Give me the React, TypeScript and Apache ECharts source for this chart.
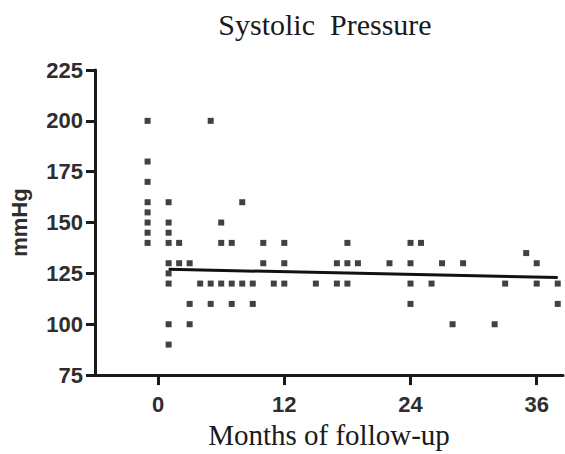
import React, { useEffect, useRef } from "react";
import * as echarts from "echarts";

const chartTitle = "Systolic  Pressure";
const xAxisName = "Months of follow-up";
const yAxisName = "mmHg";
const xTickValues = [0, 12, 24, 36];

// each point: month of follow-up and systolic pressure (mmHg)
const pointMonths = [
  -1, -1, -1, -1, -1, -1, -1, -1,
  1, 1, 1, 1, 1, 1, 1, 1, 1,
  2, 2,
  3, 3, 3,
  4,
  5, 5, 5,
  6, 6, 6,
  7, 7, 7,
  8, 8,
  9, 9,
  10, 10,
  11,
  12, 12, 12,
  15,
  17, 17,
  18, 18, 18,
  19,
  22,
  24, 24, 24, 24,
  25,
  26,
  27,
  28,
  29,
  32,
  33,
  35,
  36, 36,
  38, 38,
];
const pointPressures = [
  200, 180, 170, 160, 155, 150, 145, 140,
  160, 150, 145, 140, 130, 125, 120, 100, 90,
  140, 130,
  130, 110, 100,
  120,
  200, 120, 110,
  150, 140, 120,
  140, 120, 110,
  160, 120,
  120, 110,
  140, 130,
  120,
  140, 130, 120,
  120,
  130, 120,
  140, 130, 120,
  130,
  130,
  140, 130, 120, 110,
  140,
  120,
  130,
  100,
  130,
  100,
  120,
  135,
  130, 120,
  120, 110,
];

// fitted trend line end points
const fitMonths = [1, 38];
const fitPressures = [127, 123];

export default function App() {
  const ref = useRef<HTMLDivElement>(null);

  useEffect(() => {
    if (!ref.current) return;
    const chart = echarts.init(ref.current, null, { renderer: "svg" });
    const scatterData = pointMonths.map((m, i) => [m, pointPressures[i]]);
    const fitData = fitMonths.map((m, i) => [m, fitPressures[i]]);
    const axisColor = "#1a1a1a";
    const labelColor = "#2e2e2e";
    chart.setOption({
      animation: false,
      backgroundColor: "#ffffff",
      title: {
        text: chartTitle,
        left: 320,
        top: 4,
        textAlign: "center",
        textStyle: {
          fontFamily: "Liberation Serif",
          fontWeight: "normal",
          fontSize: 30,
          color: "#1a1a1a",
        },
      },
      grid: { left: 93, top: 70, width: 470, height: 312, containLabel: false },
      xAxis: {
        type: "value",
        min: -6,
        max: 38.5,
        name: xAxisName,
        nameLocation: "middle",
        nameGap: 31,
        nameTextStyle: {
          fontFamily: "Liberation Serif",
          fontSize: 29,
          color: "#1a1a1a",
        },
        axisLine: { show: true, onZero: false, lineStyle: { color: axisColor, width: 3 } },
        axisTick: {
          show: true,
          length: 10,
          customValues: xTickValues,
          lineStyle: { color: axisColor, width: 3 },
        },
        axisLabel: {
          customValues: xTickValues,
          margin: 18,
          fontFamily: "Liberation Sans",
          fontWeight: "bold",
          fontSize: 22,
          color: labelColor,
        },
        splitLine: { show: false },
      },
      yAxis: {
        type: "value",
        min: 75,
        max: 225,
        interval: 25,
        name: yAxisName,
        nameLocation: "middle",
        nameGap: 65,
        nameRotate: 90,
        nameTextStyle: {
          fontFamily: "Liberation Sans",
          fontWeight: "bold",
          fontSize: 22,
          color: labelColor,
        },
        axisLine: { show: true, onZero: false, lineStyle: { color: axisColor, width: 3 } },
        axisTick: { show: true, length: 9, lineStyle: { color: axisColor, width: 3 } },
        axisLabel: {
          margin: 12,
          fontFamily: "Liberation Sans",
          fontWeight: "bold",
          fontSize: 22,
          color: labelColor,
        },
        splitLine: { show: false },
      },
      series: [
        {
          type: "scatter",
          data: scatterData,
          symbol: "rect",
          symbolSize: 6,
          itemStyle: { color: "#111111" },
        },
        {
          type: "line",
          data: fitData,
          showSymbol: false,
          symbol: "none",
          lineStyle: { color: "#111111", width: 3 },
        },
      ],
    });
    return () => chart.dispose();
  }, []);

  return (
    <div
      ref={ref}
      style={{ position: "absolute", left: 0, top: 0, width: 565, height: 454 }}
    />
  );
}
